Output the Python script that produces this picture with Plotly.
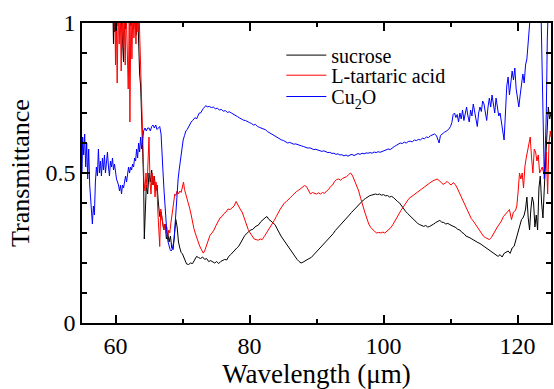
import plotly.graph_objects as go

# ---------------- data ----------------
suc_x = [59.6, 59.7, 59.8, 59.9, 60.0, 60.2, 60.4, 60.6, 60.8, 61.0, 61.2, 61.35, 61.5, 61.7, 61.9, 62.1, 62.3, 62.5, 62.7, 62.9,
         63.1, 63.3, 63.45, 63.6, 63.75, 63.9, 64.05, 64.2, 64.3, 64.45, 64.6, 64.8, 65.0, 65.2, 65.4, 65.6, 65.8, 66.0, 66.2, 66.4,
         66.6, 66.8, 67.0, 67.2, 67.4, 67.6, 67.8, 68.0, 68.2, 68.4, 68.6, 68.8, 69.0, 69.2, 69.4, 69.6, 69.8, 70.0, 70.3, 70.6,
         70.9, 71.2, 71.5, 71.8, 72.1, 72.4, 72.7, 73.0, 73.3, 73.6, 73.9, 74.2, 74.5, 74.8, 75.1, 75.4, 75.7, 76.0, 76.3, 76.6,
         76.9, 77.2, 77.5, 77.8, 78.1, 78.4, 78.7, 79.0, 79.3, 79.6, 79.9, 80.2, 80.5, 80.8, 81.1, 81.4, 81.7, 82.0, 82.3, 82.6,
         82.9, 83.2, 83.5, 83.8, 84.1, 84.4, 84.7, 85.0, 85.3, 85.6, 85.9, 86.2, 86.5, 86.8, 87.1, 87.4, 87.7, 88.0, 88.3, 88.6,
         88.9, 89.2, 89.5, 89.8, 90.1, 90.4, 90.7, 91.0, 91.3, 91.6, 91.9, 92.2, 92.5, 92.8, 93.1, 93.4, 93.7, 94.0, 94.3, 94.6,
         94.9, 95.2, 95.5, 95.8, 96.1, 96.4, 96.7, 97.0, 97.3, 97.6, 97.9, 98.2, 98.5, 98.8, 99.1, 99.4, 99.7, 100.0, 100.3, 100.6,
         100.9, 101.2, 101.5, 101.8, 102.1, 102.4, 102.7, 103.0, 103.3, 103.6, 103.9, 104.2, 104.5, 104.8, 105.1, 105.4, 105.7, 106.0, 106.3, 106.6,
         106.9, 107.2, 107.5, 107.8, 108.1, 108.4, 108.7, 109.0, 109.3, 109.6, 109.9, 110.2, 110.5, 110.8, 111.1, 111.4, 111.7, 112.0, 112.3, 112.6,
         112.9, 113.2, 113.5, 113.8, 114.1, 114.4, 114.7, 115.0, 115.3, 115.6, 115.9, 116.2, 116.5, 116.8, 117.1, 117.4, 117.7, 118.0, 118.3, 118.6,
         118.9, 119.2, 119.5, 119.8, 120.0, 120.2, 120.4, 120.6, 120.8, 121.0, 121.2, 121.4, 121.6, 121.8, 122.0, 122.2, 122.4, 122.6, 122.8, 123.0,
         123.2, 123.4, 123.6, 123.8, 124.0, 124.2, 124.4, 124.6, 124.8, 125.0]
suc_y = [1.05, 0.93, 1.05, 0.97, 1.05, 0.99, 1.05, 1.02, 1.05, 0.95, 0.87, 1.05, 0.98, 1.05, 1.0, 1.05, 0.99, 1.05, 0.98, 1.05,
         0.96, 1.05, 0.92, 0.83, 0.79, 0.70, 0.56, 0.47, 0.28, 0.42, 0.46, 0.43, 0.50, 0.47, 0.51, 0.46, 0.49, 0.44, 0.46, 0.40,
         0.355, 0.37, 0.34, 0.31, 0.33, 0.28, 0.30, 0.27, 0.29, 0.25, 0.245, 0.30, 0.345, 0.32, 0.27, 0.25, 0.235, 0.23, 0.215, 0.197,
         0.195, 0.20, 0.198, 0.21, 0.222, 0.218, 0.215, 0.22, 0.212, 0.215, 0.205, 0.208, 0.203, 0.20, 0.205, 0.198, 0.205, 0.208, 0.212, 0.21,
         0.222, 0.228, 0.236, 0.243, 0.25, 0.256, 0.27, 0.28, 0.292, 0.30, 0.305, 0.31, 0.312, 0.32, 0.325, 0.328, 0.338, 0.345, 0.35, 0.355,
         0.345, 0.34, 0.335, 0.328, 0.315, 0.30, 0.29, 0.28, 0.27, 0.258, 0.25, 0.24, 0.228, 0.22, 0.212, 0.205, 0.20, 0.203, 0.208, 0.21,
         0.215, 0.218, 0.225, 0.232, 0.24, 0.248, 0.256, 0.263, 0.27, 0.276, 0.283, 0.29, 0.298, 0.308, 0.315, 0.322, 0.33, 0.338, 0.345, 0.352,
         0.36, 0.368, 0.375, 0.382, 0.39, 0.398, 0.405, 0.41, 0.415, 0.42, 0.424, 0.426, 0.428, 0.43, 0.428, 0.43, 0.426, 0.428, 0.424, 0.425,
         0.42, 0.422, 0.418, 0.41, 0.405, 0.40, 0.39, 0.38, 0.372, 0.365, 0.358, 0.35, 0.345, 0.338, 0.332, 0.328, 0.325, 0.322, 0.325, 0.32,
         0.322, 0.325, 0.33, 0.335, 0.338, 0.342, 0.336, 0.335, 0.33, 0.332, 0.328, 0.325, 0.32, 0.318, 0.312, 0.31, 0.302, 0.298, 0.29, 0.288,
         0.284, 0.28, 0.275, 0.272, 0.268, 0.265, 0.26, 0.255, 0.25, 0.245, 0.242, 0.235, 0.232, 0.225, 0.222, 0.228, 0.22, 0.232, 0.235, 0.24,
         0.232, 0.25, 0.256, 0.28, 0.30, 0.31, 0.33, 0.345, 0.35, 0.36, 0.38, 0.42, 0.35, 0.31, 0.38, 0.42, 0.40, 0.32, 0.36, 0.31,
         0.45, 0.49, 0.40, 0.35, 0.45, 0.55, 0.60, 0.72, 0.68, 0.70]

tar_x = [59.9, 60.0, 60.1, 60.25, 60.4, 60.55, 60.7, 60.85, 61.0, 61.15, 61.3, 61.45, 61.6, 61.75, 61.9, 62.05, 62.15, 62.3, 62.45, 62.6,
         62.75, 62.9, 63.05, 63.2, 63.35, 63.5, 63.65, 63.8, 63.95, 64.1, 64.25, 64.4, 64.55, 64.7, 64.85, 65.0, 65.15, 65.3, 65.45, 65.6,
         65.75, 65.9, 66.05, 66.2, 66.35, 66.5, 66.6, 66.75, 66.9, 67.05, 67.2, 67.35, 67.5, 67.65, 67.8, 67.95, 68.1, 68.25, 68.4, 68.55,
         68.7, 68.85, 69.0, 69.2, 69.4, 69.6, 69.8, 70.0, 70.15, 70.3, 70.5, 70.7, 70.9, 71.1, 71.3, 71.5, 71.7, 71.9, 72.1, 72.3,
         72.5, 72.7, 72.9, 73.1, 73.3, 73.5, 73.7, 73.9, 74.1, 74.4, 74.7, 75.0, 75.3, 75.6, 75.9, 76.2, 76.5, 76.8, 77.1, 77.4,
         77.7, 78.0, 78.3, 78.6, 78.9, 79.2, 79.5, 79.8, 80.1, 80.4, 80.7, 81.0, 81.3, 81.6, 81.9, 82.2, 82.5, 82.8, 83.1, 83.4,
         83.7, 84.0, 84.3, 84.6, 84.9, 85.2, 85.5, 85.8, 86.1, 86.4, 86.7, 87.0, 87.3, 87.6, 87.9, 88.2, 88.5, 88.8, 89.1, 89.4,
         89.7, 90.0, 90.3, 90.6, 90.9, 91.2, 91.5, 91.8, 92.1, 92.4, 92.7, 93.0, 93.3, 93.6, 93.9, 94.2, 94.5, 94.8, 95.1, 95.4,
         95.7, 96.0, 96.3, 96.6, 96.9, 97.2, 97.5, 97.8, 98.1, 98.4, 98.7, 99.0, 99.3, 99.6, 99.9, 100.2, 100.5, 100.8, 101.1, 101.4,
         101.7, 102.0, 102.3, 102.6, 102.9, 103.2, 103.5, 103.8, 104.1, 104.4, 104.7, 105.0, 105.3, 105.6, 105.9, 106.2, 106.5, 106.8, 107.1, 107.4,
         107.7, 108.0, 108.3, 108.6, 108.9, 109.2, 109.5, 109.8, 110.1, 110.4, 110.7, 111.0, 111.3, 111.6, 111.9, 112.2, 112.5, 112.8, 113.1, 113.4,
         113.7, 114.0, 114.3, 114.6, 114.9, 115.2, 115.5, 115.8, 116.1, 116.4, 116.7, 117.0, 117.3, 117.6, 117.9, 118.2, 118.5, 118.8, 119.1, 119.4,
         119.7, 119.9, 120.1, 120.3, 120.5, 120.7, 120.9, 121.1, 121.3, 121.5, 121.7, 121.9, 122.1, 122.3, 122.5, 122.7, 122.9, 123.1, 123.3, 123.5,
         123.7, 123.9, 124.1, 124.3, 124.5, 124.7, 124.9, 125.0]
tar_y = [1.05, 0.86, 1.05, 0.80, 1.05, 0.93, 1.05, 0.84, 1.05, 0.92, 1.05, 0.86, 1.05, 0.95, 0.78, 1.0, 0.67, 1.05, 0.88, 1.05,
         0.95, 1.05, 0.93, 1.05, 0.97, 1.05, 0.92, 0.82, 0.70, 0.55, 0.47, 0.44, 0.50, 0.45, 0.58, 0.62, 0.47, 0.43, 0.50, 0.46,
         0.49, 0.42, 0.47, 0.44, 0.36, 0.30, 0.255, 0.38, 0.35, 0.34, 0.31, 0.33, 0.30, 0.32, 0.29, 0.31, 0.30, 0.33, 0.36, 0.39,
         0.41, 0.43, 0.425, 0.44, 0.43, 0.44, 0.435, 0.45, 0.47, 0.445, 0.43, 0.41, 0.395, 0.38, 0.36, 0.335, 0.315, 0.30, 0.285, 0.275,
         0.26, 0.25, 0.24, 0.233, 0.24, 0.255, 0.27, 0.285, 0.292, 0.30, 0.31, 0.325, 0.34, 0.35, 0.355, 0.365, 0.37, 0.38, 0.378, 0.383,
         0.39, 0.405, 0.39, 0.38, 0.37, 0.35, 0.33, 0.312, 0.30, 0.29, 0.28, 0.278, 0.276, 0.28, 0.278, 0.288, 0.298, 0.308, 0.318, 0.33,
         0.342, 0.355, 0.37, 0.38, 0.39, 0.40, 0.405, 0.41, 0.418, 0.425, 0.432, 0.438, 0.442, 0.448, 0.452, 0.458, 0.455, 0.44, 0.43, 0.435,
         0.432, 0.43, 0.434, 0.43, 0.435, 0.432, 0.44, 0.445, 0.455, 0.46, 0.472, 0.478, 0.48, 0.476, 0.482, 0.484, 0.488, 0.495, 0.50, 0.49,
         0.475, 0.455, 0.44, 0.415, 0.39, 0.37, 0.35, 0.33, 0.318, 0.31, 0.305, 0.30, 0.302, 0.30, 0.303, 0.30, 0.305, 0.31, 0.318, 0.328,
         0.34, 0.355, 0.365, 0.375, 0.385, 0.395, 0.405, 0.415, 0.42, 0.425, 0.432, 0.438, 0.44, 0.445, 0.45, 0.458, 0.462, 0.468, 0.47, 0.474,
         0.478, 0.48, 0.475, 0.468, 0.462, 0.466, 0.472, 0.465, 0.46, 0.468, 0.462, 0.45, 0.435, 0.42, 0.41, 0.395, 0.378, 0.36, 0.348, 0.34,
         0.33, 0.318, 0.308, 0.298, 0.29, 0.285, 0.28, 0.278, 0.285, 0.298, 0.31, 0.32, 0.33, 0.34, 0.355, 0.362, 0.368, 0.378, 0.345, 0.37,
         0.375, 0.39, 0.44, 0.50, 0.48, 0.50, 0.45, 0.52, 0.55, 0.57, 0.59, 0.62, 0.55, 0.50, 0.58, 0.57, 0.54, 0.56, 0.50, 0.51,
         0.52, 0.50, 0.54, 0.57, 0.43, 0.60, 0.64, 0.62]

cu_x = [55.0, 55.1, 55.25, 55.4, 55.55, 55.7, 55.85, 56.0, 56.15, 56.3, 56.45, 56.55, 56.7, 56.85, 57.0, 57.15, 57.3, 57.45, 57.6, 57.75,
        57.9, 58.05, 58.2, 58.35, 58.5, 58.65, 58.8, 58.95, 59.1, 59.25, 59.4, 59.55, 59.7, 59.85, 60.0, 60.15, 60.3, 60.45, 60.6, 60.75,
        60.9, 61.05, 61.2, 61.35, 61.5, 61.65, 61.8, 61.95, 62.1, 62.25, 62.4, 62.55, 62.7, 62.85, 63.0, 63.15, 63.3, 63.45, 63.6, 63.75,
        63.9, 64.05, 64.2, 64.4, 64.6, 64.8, 65.0, 65.2, 65.4, 65.6, 65.8, 66.0, 66.2, 66.4, 66.6, 66.8, 66.95, 67.1, 67.25, 67.4,
        67.55, 67.7, 67.85, 68.0, 68.15, 68.3, 68.45, 68.6, 68.75, 68.9, 69.05, 69.2, 69.35, 69.5, 69.65, 69.8, 69.95, 70.1, 70.3, 70.5,
        70.7, 70.9, 71.1, 71.3, 71.5, 71.7, 71.9, 72.1, 72.3, 72.5, 72.7, 72.9, 73.1, 73.3, 73.5, 73.7, 74.0, 74.3, 74.6, 74.9,
        75.2, 75.5, 75.8, 76.1, 76.4, 76.7, 77.0, 77.3, 77.6, 77.9, 78.2, 78.5, 78.8, 79.1, 79.4, 79.7, 80.0, 80.3, 80.6, 80.9,
        81.2, 81.5, 81.8, 82.1, 82.4, 82.7, 83.0, 83.3, 83.6, 83.9, 84.2, 84.5, 84.8, 85.1, 85.4, 85.7, 86.0, 86.3, 86.6, 86.9,
        87.2, 87.5, 87.8, 88.1, 88.4, 88.7, 89.0, 89.3, 89.6, 89.9, 90.2, 90.5, 90.8, 91.1, 91.4, 91.7, 92.0, 92.3, 92.6, 92.9,
        93.2, 93.5, 93.8, 94.1, 94.4, 94.7, 95.0, 95.3, 95.6, 95.9, 96.2, 96.5, 96.8, 97.1, 97.4, 97.7, 98.0, 98.3, 98.6, 98.9,
        99.2, 99.5, 99.8, 100.1, 100.4, 100.7, 101.0, 101.3, 101.6, 101.9, 102.2, 102.5, 102.8, 103.1, 103.4, 103.7, 104.0, 104.3, 104.6, 104.9,
        105.2, 105.5, 105.8, 106.1, 106.4, 106.7, 107.0, 107.3, 107.6, 107.9, 108.1, 108.3, 108.5, 108.8, 109.1, 109.4, 109.7, 110.0, 110.2, 110.4,
        110.6, 110.8, 111.0, 111.2, 111.4, 111.6, 111.8, 112.0, 112.2, 112.4, 112.6, 112.8, 113.0, 113.2, 113.4, 113.6, 113.8, 114.0, 114.2, 114.4,
        114.6, 114.8, 115.0, 115.2, 115.4, 115.6, 115.8, 116.0, 116.2, 116.4, 116.6, 116.8, 117.0, 117.2, 117.4, 117.6, 117.8, 118.0, 118.2, 118.4,
        118.6, 118.8, 119.0, 119.2, 119.4, 119.6, 119.8, 120.0, 120.2, 120.4, 120.6, 120.8, 121.0, 121.2, 121.4, 121.6, 121.8, 122.0, 123.5, 123.7,
        123.85, 124.0, 124.15, 124.3, 124.45, 124.6, 125.0]
cu_y = [0.50, 0.62, 0.56, 0.63, 0.52, 0.60, 0.48, 0.58, 0.46, 0.40, 0.35, 0.33, 0.39, 0.36, 0.47, 0.52, 0.49, 0.58, 0.50, 0.54,
        0.49, 0.55, 0.51, 0.56, 0.50, 0.53, 0.57, 0.52, 0.49, 0.54, 0.52, 0.55, 0.51, 0.53, 0.50, 0.48, 0.47, 0.46, 0.44, 0.46,
        0.43, 0.46, 0.45, 0.48, 0.49, 0.47, 0.50, 0.52, 0.50, 0.52, 0.51, 0.53, 0.52, 0.55, 0.54, 0.58, 0.55, 0.60, 0.57, 0.62,
        0.58, 0.62, 0.64, 0.65, 0.64, 0.65, 0.65, 0.64, 0.655, 0.66, 0.65, 0.66, 0.645, 0.65, 0.655, 0.63, 0.58, 0.50, 0.44, 0.38,
        0.33, 0.29, 0.27, 0.255, 0.245, 0.24, 0.245, 0.26, 0.28, 0.33, 0.39, 0.44, 0.48, 0.51, 0.54, 0.57, 0.59, 0.61, 0.625, 0.64,
        0.645, 0.655, 0.66, 0.67, 0.675, 0.68, 0.685, 0.68, 0.69, 0.70, 0.70, 0.71, 0.715, 0.72, 0.725, 0.72, 0.722, 0.718, 0.72, 0.714,
        0.716, 0.71, 0.712, 0.706, 0.708, 0.702, 0.704, 0.70, 0.695, 0.692, 0.688, 0.684, 0.68, 0.676, 0.675, 0.67, 0.668, 0.665, 0.66, 0.662,
        0.655, 0.652, 0.65, 0.646, 0.644, 0.638, 0.634, 0.63, 0.625, 0.622, 0.618, 0.614, 0.61, 0.608, 0.605, 0.60, 0.602, 0.598, 0.596, 0.597,
        0.594, 0.592, 0.59, 0.588, 0.585, 0.583, 0.584, 0.58, 0.578, 0.579, 0.576, 0.575, 0.572, 0.574, 0.57, 0.568, 0.569, 0.565, 0.566, 0.562,
        0.564, 0.56, 0.561, 0.557, 0.56, 0.556, 0.56, 0.562, 0.558, 0.562, 0.565, 0.562, 0.566, 0.564, 0.567, 0.566, 0.568, 0.566, 0.57, 0.568,
        0.571, 0.569, 0.572, 0.574, 0.576, 0.58, 0.578, 0.584, 0.588, 0.592, 0.596, 0.60, 0.598, 0.603, 0.60, 0.605, 0.606, 0.604, 0.61, 0.608,
        0.612, 0.61, 0.616, 0.614, 0.62, 0.618, 0.624, 0.626, 0.63, 0.625, 0.61, 0.60, 0.625, 0.632, 0.636, 0.64, 0.645, 0.655, 0.668, 0.695,
        0.70, 0.685, 0.695, 0.67, 0.70, 0.68, 0.71, 0.675, 0.70, 0.72, 0.69, 0.67, 0.71, 0.69, 0.73, 0.70, 0.68, 0.655, 0.70, 0.72,
        0.705, 0.74, 0.73, 0.70, 0.675, 0.72, 0.75, 0.72, 0.76, 0.73, 0.70, 0.75, 0.72, 0.69, 0.70, 0.67, 0.64, 0.61, 0.70, 0.79,
        0.82, 0.76, 0.80, 0.84, 0.81, 0.85, 0.78, 0.74, 0.72, 0.76, 0.80, 0.83, 0.80, 0.86, 0.88, 0.94, 0.97, 1.05, 1.05, 0.80,
        0.62, 0.48, 0.58, 0.70, 0.95, 1.05, 1.05]

names = ["sucrose", "L-tartaric acid", "Cu<sub>2</sub>O"]
colors = ["#000000", "#ff0000", "#0000ff"]
x_ticks = [60, 80, 100, 120]
y_ticks = [0, 0.5, 1]
y_tick_text = ["0", "0.5", "1"]

FONT = "Liberation Serif"
legend_ids = ["legend", "legend2", "legend3"]
legend_y = [0.893, 0.826, 0.755]

fig = go.Figure()
for xs, ys, nm, col, lg in zip([suc_x, tar_x, cu_x], [suc_y, tar_y, cu_y], names, colors, legend_ids):
    fig.add_trace(go.Scatter(x=xs, y=ys, mode="lines", name=nm, legend=lg,
                             line=dict(color=col, width=1)))

axis_common = dict(showline=True, linecolor="black", linewidth=1.5, mirror="allticks",
                   ticks="inside", tickcolor="black", tickwidth=1.5, showgrid=False,
                   zeroline=False, tickfont=dict(family=FONT, size=24, color="black"))

legend_style = dict(x=0.425, xanchor="left", yanchor="middle", bgcolor="rgba(0,0,0,0)",
                    borderwidth=0, itemwidth=40,
                    font=dict(family=FONT, size=20, color="black"))

fig.update_layout(
    width=554, height=389,
    margin=dict(l=82, r=1, t=23, b=66),
    paper_bgcolor="white", plot_bgcolor="white",
    font=dict(family=FONT, color="black"),
    showlegend=True,
    legend=dict(y=legend_y[0], **legend_style),
    legend2=dict(y=legend_y[1], **legend_style),
    legend3=dict(y=legend_y[2], **legend_style),
    xaxis=dict(range=[55, 125], tickvals=x_ticks, ticklen=8,
               minor=dict(dtick=10, tick0=60, ticklen=4, ticks="inside", tickcolor="black", tickwidth=1.5),
               title=dict(text="Wavelength (μm)", font=dict(family=FONT, size=27), standoff=5),
               **axis_common),
    yaxis=dict(range=[0, 1], tickvals=y_ticks, ticktext=y_tick_text, ticklen=8,
               minor=dict(dtick=0.1, tick0=0, ticklen=5, ticks="inside", tickcolor="black", tickwidth=1.5),
               title=dict(text="Transmittance", font=dict(family=FONT, size=26), standoff=8),
               **axis_common),
)

fig.write_html("out.html")
